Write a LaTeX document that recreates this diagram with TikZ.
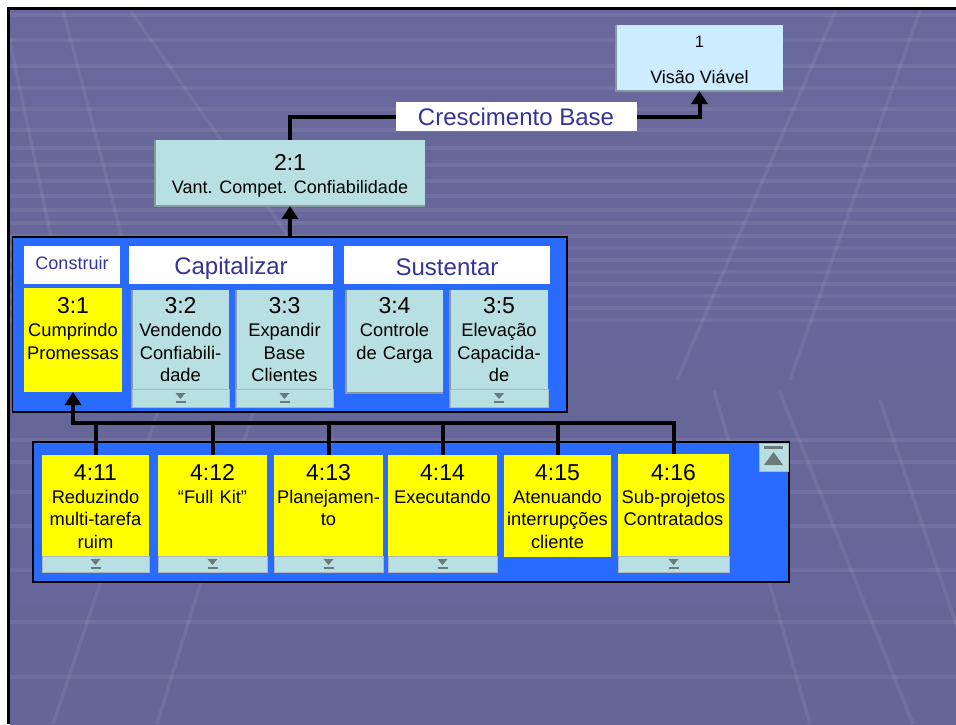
\documentclass[tikz,border=0pt]{standalone}
\usepackage{fontspec}
\setmainfont{Liberation Sans}
\usetikzlibrary{arrows.meta,calc}

\definecolor{panelblue}{RGB}{41,106,255}
\definecolor{teal1}{RGB}{184,224,226}
\definecolor{box1blue}{RGB}{204,236,255}
\definecolor{hdrtext}{RGB}{51,51,153}
\definecolor{markgray}{RGB}{108,122,124}
\definecolor{edgegray}{RGB}{135,155,158}
\definecolor{bgtop}{RGB}{105,103,155}
\definecolor{bgmid}{RGB}{76,74,116}
\definecolor{bgbot}{RGB}{102,101,152}
\definecolor{cardyellow}{RGB}{255,255,0}

\newcommand\fs[2]{\fontsize{#1}{#2}\selectfont}
\newcommand\rbox[6]{\node[#1,anchor=north west,minimum width={#5-#3},minimum height={#6-#4}] (#2) at (#3,#4) {};}
\newcommand\dmark[1]{%
  \fill[markgray] ([shift={(-5,-5)}]#1.center) -- ++(10,0) -- ++(-5,6) -- cycle;
  \fill[markgray] ([shift={(-5,3)}]#1.center) rectangle ++(10,1.8);}
\newcommand\cardedge[1]{\draw[edgegray,line width=1.2pt] (#1.north west) -- (#1.south west) -- (#1.south east);}

\begin{document}
\begin{tikzpicture}[x=1pt,y=-1pt,
  conn/.style={line width=4pt,black,line join=miter},
  arr/.style={-{Triangle[width=16pt,length=13pt]}},
  panel/.style={fill=panelblue,draw=black,line width=1.5pt,inner sep=0pt,outer sep=0pt},
  hdr/.style={fill=white,inner sep=0pt,outer sep=0pt},
  tealcard/.style={fill=teal1,inner sep=0pt,outer sep=0pt},
  box1/.style={fill=box1blue,inner sep=0pt,outer sep=0pt},
  ycard/.style={fill=cardyellow,inner sep=0pt,outer sep=0pt},
  strip/.style={fill=teal1,draw=edgegray!70,line width=0.8pt,inner sep=0pt,outer sep=0pt},
  lbl/.style={fill=white,inner sep=0pt,outer sep=0pt},
  hdrtxt/.style={anchor=base,inner sep=0pt,text=hdrtext},
  plaintxt/.style={anchor=base,inner sep=0pt},
  numtxt/.style={anchor=base,inner sep=0pt,font=\fs{23}{26}},
  bodytxt/.style={anchor=base,inner sep=0pt,text width=124pt,align=center,font=\fs{18.3}{22.5}},
  gridline/.style={line width=3.5pt,white,opacity=0.07}
]
\useasboundingbox (0,0) rectangle (956,724);
\fill[white] (0,0) rectangle (956,724);
\shade[top color=bgtop,middle color=bgmid,bottom color=bgbot] (10,10) rectangle (956,724);

% background grid
\begin{scope}
\clip (10,10) rectangle (956,724);
\foreach \yy in {15,40,66,88,109,130,148,165,181,196,210,223,236,248,260,272,284,296,308,320}
  \draw[gridline] (10,\yy) -- (956,\yy);
\foreach \yy in {440,462,492,526,570,622,677}
  \draw[gridline] (10,\yy) -- (956,\yy);
\draw[gridline] (8,32) -- (81,380);
\draw[gridline] (63,10) -- (159,380);
\draw[gridline] (130,10) -- (389,380);
\draw[gridline] (836,10) -- (677,380);
\draw[gridline] (920,10) -- (790,380);
\draw[gridline] (165,390) -- (53,724);
\draw[gridline] (260,390) -- (157,724);
\draw[gridline] (714,390) -- (810,724);
\draw[gridline] (779,390) -- (913,724);
\draw[gridline] (880,400) -- (990,724);
\end{scope}
\draw[black,line width=3pt] (8.5,724) -- (8.5,8.5) -- (956,8.5);

% top boxes
\rbox{box1}{c1}{616}{25}{783}{91}
\cardedge{c1}
\node[plaintxt,font=\fs{16.5}{19}] (c1n) at (699.5,47.7) {1};
\node[plaintxt,font=\fs{18}{21}] (c1t) at (699.5,83) {Visão Viável};

\rbox{tealcard}{c21}{155}{140}{425}{206}
\cardedge{c21}
\node[numtxt] (c21n) at (290,170) {2:1};
\node[plaintxt,font=\fs{18}{21}] (c21t) at (290,193.3) {Vant. Compet. Confiabilidade};

\node[lbl,minimum width=241,minimum height=29] (cb) at (516.5,116.5) {};
\node[hdrtxt,font=\fs{24}{28}] (cbt) at (516,125) {Crescimento Base};

% level 3 panel
\rbox{panel}{p3}{12.7}{237}{567}{412}
\rbox{hdr}{h1}{24}{246}{120}{284}
\node[hdrtxt,font=\fs{18}{22}] (h1t) at (72,269.3) {Construir};
\rbox{hdr}{h2}{129}{246}{333}{284}
\node[hdrtxt,font=\fs{24}{28}] (h2t) at (231,274.3) {Capitalizar};
\rbox{hdr}{h3}{344}{246}{550}{284}
\node[hdrtxt,font=\fs{24}{28}] (h3t) at (447,275) {Sustentar};

\rbox{ycard}{c31}{24}{288}{122}{392}
\node[numtxt] (c31n) at (73,313.5) {3:1};
\node[bodytxt] (c31t) at (73,336.8) {Cumprindo\\Promessas};

\rbox{tealcard}{c32}{132}{290}{229}{407}
\cardedge{c32}
\rbox{strip}{s32}{132}{389}{229}{407}
\dmark{s32}
\node[numtxt] (c32n) at (180.5,313.5) {3:2};
\node[bodytxt] (c32t) at (180.5,336.8) {Vendendo\\Confiabili-\\dade};

\rbox{tealcard}{c33}{236}{290}{333}{407}
\cardedge{c33}
\rbox{strip}{s33}{236}{389}{333}{407}
\dmark{s33}
\node[numtxt] (c33n) at (284.5,313.5) {3:3};
\node[bodytxt] (c33t) at (284.5,336.8) {Expandir\\Base\\Clientes};

\rbox{tealcard}{c34}{346}{290}{443}{393}
\cardedge{c34}
\node[numtxt] (c34n) at (394.5,313.5) {3:4};
\node[bodytxt] (c34t) at (394.5,336.8) {Controle\\de Carga};

\rbox{tealcard}{c35}{450}{290}{548}{407}
\cardedge{c35}
\rbox{strip}{s35}{450}{389}{548}{407}
\dmark{s35}
\node[numtxt] (c35n) at (499,313.5) {3:5};
\node[bodytxt] (c35t) at (499,336.8) {Elevação\\Capacida-\\de};

% level 4 panel
\rbox{panel}{p4}{33}{442}{789}{582}

\rbox{ycard}{c411}{42}{455}{149}{572}
\rbox{strip}{s411}{42}{556}{149}{572}
\dmark{s411}
\node[numtxt] (c411n) at (95.5,480) {4:11};
\node[bodytxt] (c411t) at (95.5,503.3) {Reduzindo\\multi-tarefa\\ruim};

\rbox{ycard}{c412}{158}{455}{267}{572}
\rbox{strip}{s412}{158}{556}{267}{572}
\dmark{s412}
\node[numtxt] (c412n) at (212.5,480) {4:12};
\node[bodytxt] (c412t) at (212.5,503.3) {“Full Kit”};

\rbox{ycard}{c413}{274}{455}{383}{572}
\rbox{strip}{s413}{274}{556}{383}{572}
\dmark{s413}
\node[numtxt] (c413n) at (328.5,480) {4:13};
\node[bodytxt] (c413t) at (328.5,503.3) {Planejamen-\\to};

\rbox{ycard}{c414}{388}{455}{497}{572}
\rbox{strip}{s414}{388}{556}{497}{572}
\dmark{s414}
\node[numtxt] (c414n) at (442.5,480) {4:14};
\node[bodytxt] (c414t) at (442.5,503.3) {Executando};

\rbox{ycard}{c415}{504}{455}{611}{557}
\node[numtxt] (c415n) at (557.5,480) {4:15};
\node[bodytxt] (c415t) at (557.5,503.3) {Atenuando\\interrupções\\cliente};

\rbox{ycard}{c416}{618}{454}{729}{572}
\rbox{strip}{s416}{618}{556}{729}{572}
\dmark{s416}
\node[numtxt] (c416n) at (673.5,480) {4:16};
\node[bodytxt] (c416t) at (673.5,503.3) {Sub-projetos\\Contratados};

% scroll-up button
\rbox{strip}{upbtn}{759}{443}{788}{471}
\fill[markgray] (764,446) rectangle (783,449);
\fill[markgray] (764,465) -- (783,465) -- (773.5,452) -- cycle;

% connectors
\draw[conn,arr] (p3.north) -- (c21.south);
\draw[conn] (c21.north) |- (cb.west);
\draw[conn,arr] (cb.east) -| (c1.south);
\coordinate (busy) at (0,423);
\coordinate (bus) at (c31.south |- busy);
\draw[conn,arr] (c416.north) |- (bus) -- (c31.south);
\foreach \n in {411,412,413,414,415}
  \draw[conn] (c\n.north) -- (c\n.north |- bus);
\end{tikzpicture}
\end{document}
